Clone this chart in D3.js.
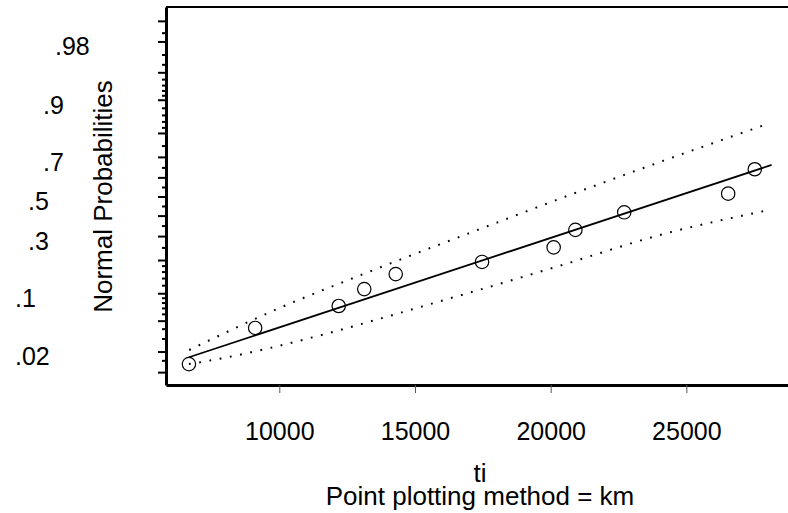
<!DOCTYPE html>
<html>
<head>
<meta charset="utf-8">
<script src="https://cdn.jsdelivr.net/npm/d3@7"></script>
<style>
  html, body { margin: 0; padding: 0; background: #fff; }
  svg { display: block; }
  text { font-family: "Liberation Sans", Arial, Helvetica, sans-serif; fill: #000; }
</style>
</head>
<body>
<svg id="chart" width="788" height="513"></svg>
<script>
// Failure times (km) and Kaplan-Meier plotting probabilities
const kmTime = [6670, 9110, 12190, 13130, 14290, 17470, 20110, 20910, 22710, 26540, 27520];
const kmProb = [0.0132, 0.0408, 0.0735, 0.110, 0.152, 0.193, 0.250, 0.329, 0.417, 0.515, 0.641];

// Fitted normal line (end points)
const fitTime = [6670, 28140];
const fitProb = [0.0166, 0.662];

// Pointwise confidence band
const upperTime = [6680, 9900, 12850, 17400, 20340, 24030, 27810];
const upperProb = [0.0210, 0.0676, 0.1441, 0.3334, 0.4884, 0.6762, 0.8259];
const lowerTime = [6670, 7080, 16720, 20340, 24030, 27930];
const lowerProb = [0.0132, 0.01405, 0.0960, 0.1797, 0.3050, 0.4254];

// Axis ticks
const xTickValues = [10000, 15000, 20000, 25000];
const yMajorTicks = [0.01, 0.02, 0.05, 0.1, 0.2, 0.3, 0.4, 0.5, 0.6, 0.7, 0.8, 0.9, 0.95, 0.98, 0.99];
const yMinorTicks = [0.015, 0.03, 0.04, 0.06, 0.07, 0.08, 0.09, 0.12, 0.14, 0.16, 0.18,
                     0.25, 0.35, 0.45, 0.55, 0.65, 0.75, 0.82, 0.84, 0.86, 0.88,
                     0.91, 0.92, 0.93, 0.94, 0.96, 0.97, 0.985];
const yLabelValues = [0.98, 0.9, 0.7, 0.5, 0.3, 0.1, 0.02];
const yLabelText = [".98", ".9", ".7", ".5", ".3", ".1", ".02"];

// Layout
const plot = { left: 166, right: 788, top: 7, bottom: 385 };
const labelIndent = [55, 43, 43, 28, 28, 15, 15];
const labelDrop = 13.8;
const tickFont = 25;
const titleFont = 26;

// Inverse standard normal CDF (Acklam)
function probit(p) {
  const a = [-3.969683028665376e+01, 2.209460984245205e+02, -2.759285104469687e+02,
             1.383577518672690e+02, -3.066479806614716e+01, 2.506628277459239e+00];
  const b = [-5.447609879822406e+01, 1.615858368580409e+02, -1.556989798598866e+02,
             6.680131188771972e+01, -1.328068155288572e+01];
  const c = [-7.784894002430293e-03, -3.223964580411365e-01, -2.400758277161838e+00,
             -2.549671010049524e+00, 4.374664141464968e+00, 2.938163982698783e+00];
  const d = [7.784695709041462e-03, 3.224671290700398e-01, 2.445134137142996e+00,
             3.754408661907416e+00];
  const pl = 0.02425, ph = 1 - pl;
  let q, r;
  if (p < pl) {
    q = Math.sqrt(-2 * Math.log(p));
    return (((((c[0]*q+c[1])*q+c[2])*q+c[3])*q+c[4])*q+c[5]) /
           ((((d[0]*q+d[1])*q+d[2])*q+d[3])*q+1);
  }
  if (p <= ph) {
    q = p - 0.5; r = q * q;
    return (((((a[0]*r+a[1])*r+a[2])*r+a[3])*r+a[4])*r+a[5])*q /
           (((((b[0]*r+b[1])*r+b[2])*r+b[3])*r+b[4])*r+1);
  }
  q = Math.sqrt(-2 * Math.log(1 - p));
  return -(((((c[0]*q+c[1])*q+c[2])*q+c[3])*q+c[4])*q+c[5]) /
          ((((d[0]*q+d[1])*q+d[2])*q+d[3])*q+1);
}

const svg = d3.select("#chart");

const x = d3.scaleLinear().domain([5825, 28745]).range([plot.left, plot.right]);
const z = d3.scaleLinear().domain([-2.497, 2.51]).range([plot.bottom, plot.top]);
const y = p => z(probit(p));

// Top frame line
svg.append("line")
  .attr("x1", plot.left).attr("x2", plot.right)
  .attr("y1", plot.top).attr("y2", plot.top)
  .attr("stroke", "#000").attr("stroke-width", 2);

// Left axis: major and minor ticks on the normal probability scale
const yMajor = svg.append("g")
  .attr("transform", `translate(${plot.left},0)`)
  .call(d3.axisLeft(z).tickValues(yMajorTicks.map(probit)).tickSize(8).tickSizeOuter(0).tickFormat(""));
yMajor.select(".domain").attr("stroke-width", 3);
yMajor.selectAll(".tick line").attr("stroke-width", 2);

const yMinor = svg.append("g")
  .attr("transform", `translate(${plot.left},0)`)
  .call(d3.axisLeft(z).tickValues(yMinorTicks.map(probit)).tickSize(4).tickSizeOuter(0).tickFormat(""));
yMinor.select(".domain").remove();
yMinor.selectAll(".tick line").attr("stroke-width", 2);

// Probability labels
svg.append("g").selectAll("text")
  .data(yLabelValues)
  .join("text")
  .attr("x", (d, i) => labelIndent[i])
  .attr("y", d => y(d) + labelDrop)
  .attr("font-size", tickFont)
  .text((d, i) => yLabelText[i]);

// Bottom axis
const xAxis = svg.append("g")
  .attr("transform", `translate(0,${plot.bottom})`)
  .call(d3.axisBottom(x).tickValues(xTickValues).tickSize(8).tickSizeOuter(0).tickPadding(29).tickFormat(d3.format("d")));
xAxis.select(".domain").attr("stroke-width", 3);
xAxis.selectAll(".tick line").attr("stroke", "#555").attr("stroke-width", 1);
xAxis.selectAll(".tick text")
  .attr("font-size", tickFont)
  .attr("font-family", "'Liberation Sans', Arial, sans-serif");

// Axis titles
const xMid = (plot.left + plot.right) / 2 + 3;
svg.append("text")
  .attr("x", xMid).attr("y", 482)
  .attr("text-anchor", "middle").attr("font-size", titleFont)
  .text("ti");
svg.append("text")
  .attr("x", xMid).attr("y", 505)
  .attr("text-anchor", "middle").attr("font-size", titleFont)
  .text("Point plotting method = km");
svg.append("text")
  .attr("transform", `translate(111.5,${y(0.5)}) rotate(-90)`)
  .attr("text-anchor", "middle").attr("font-size", titleFont)
  .text("Normal Probabilities");

// Confidence band (dotted)
const band = d3.line().x(d => x(d[0])).y(d => y(d[1])).curve(d3.curveMonotoneX);
[[upperTime, upperProb], [lowerTime, lowerProb]].forEach(([ts, ps]) => {
  svg.append("path")
    .attr("d", band(d3.zip(ts, ps)))
    .attr("fill", "none").attr("stroke", "#000")
    .attr("stroke-width", 2).attr("stroke-linecap", "butt")
    .attr("stroke-dasharray", "1.8 8.6");
});

// Fitted line
svg.append("path")
  .attr("d", d3.line().x(d => x(d[0])).y(d => y(d[1]))(d3.zip(fitTime, fitProb)))
  .attr("fill", "none").attr("stroke", "#000").attr("stroke-width", 1.8);

// Observations
svg.append("g").selectAll("circle")
  .data(d3.zip(kmTime, kmProb))
  .join("circle")
  .attr("cx", d => x(d[0]))
  .attr("cy", d => y(d[1]))
  .attr("r", 6.7)
  .attr("fill", "none").attr("stroke", "#000").attr("stroke-width", 1.2);
</script>
</body>
</html>
